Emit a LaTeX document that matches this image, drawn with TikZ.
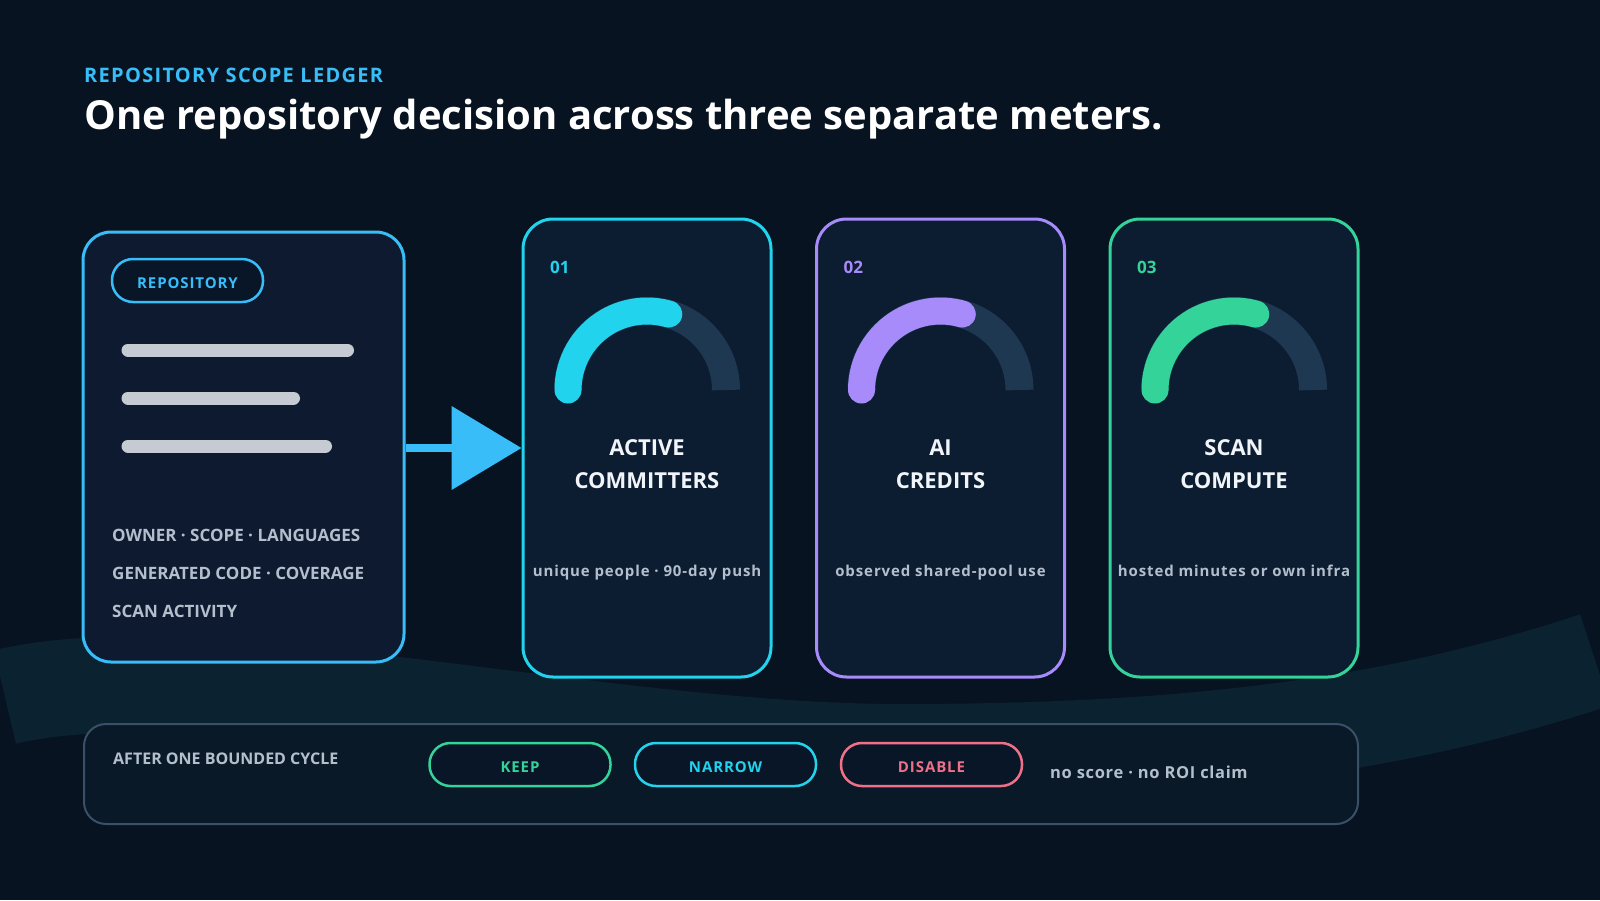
\documentclass[tikz,border=0pt]{standalone}
\usepackage{fontspec}
\setmainfont{Open Sans}
\newfontfamily\spacedfont[LetterSpace=6]{Open Sans}
\newfontfamily\widefont[LetterSpace=6.5]{Open Sans}
\newfontfamily\notefont[LetterSpace=4]{Open Sans}
\usetikzlibrary{arrows.meta}

\definecolor{bgnavy}{HTML}{071320}
\definecolor{bandblue}{HTML}{0B2231}
\definecolor{repofill}{HTML}{0D1A30}
\definecolor{cardfill}{HTML}{0C1D32}
\definecolor{pillfill}{HTML}{081627}
\definecolor{boxfill}{HTML}{0A1928}
\definecolor{boxline}{HTML}{3A5068}
\definecolor{skyblue}{HTML}{38BDF8}
\definecolor{cyanish}{HTML}{22D3EE}
\definecolor{violet}{HTML}{A78BFA}
\definecolor{mint}{HTML}{34D399}
\definecolor{rose}{HTML}{F07088}
\definecolor{trackgray}{HTML}{1D3850}
\definecolor{barlight}{HTML}{C5CAD3}
\definecolor{mutedtext}{HTML}{B4BFCD}
\definecolor{headwhite}{HTML}{F1F5F9}

\tikzset{
  card/.style={draw=#1, line width=3pt, rounded corners=30pt, fill=cardfill,
    minimum width=248pt, minimum height=458pt, inner sep=0pt},
  pill/.style={draw=#1, line width=2.5pt, rounded corners=21pt, fill=pillfill,
    minimum width=181pt, minimum height=43pt, inner sep=0pt, text=#1,
    text height=15pt, text depth=0pt,
    font=\spacedfont\bfseries\fontsize{15}{18}\selectfont},
  txt/.style={inner sep=0pt, anchor=base west},
  ctxt/.style={inner sep=0pt, anchor=base},
  metric/.style={ctxt, text=headwhite, font=\bfseries\fontsize{22}{26}\selectfont},
  caption/.style={ctxt, text=mutedtext, font=\spacedfont\bfseries\fontsize{15}{18}\selectfont},
  idx/.style={txt, text=#1, font=\bfseries\fontsize{17}{20}\selectfont},
  track/.style={draw=trackgray, line width=28pt},
  gauge/.style={draw=#1, line width=27pt, line cap=round},
  bar/.style={draw=barlight, line width=13pt, line cap=round},
  fact/.style={txt, text=mutedtext, font=\bfseries\fontsize{17}{20}\selectfont}
}

\begin{document}
\begin{tikzpicture}[x=1pt,y=1pt]
  \useasboundingbox (0,0) rectangle (1600,-900);
  \fill[bgnavy] (0,0) rectangle (1600,-900);

  % background band
  \draw[bandblue, line width=96pt] (5,-697) .. controls (200,-650) and (600,-752) .. (900,-752)
    .. controls (1200,-752) and (1400,-724) .. (1595,-660);

  % heading
  \node[txt, text=skyblue, font=\widefont\bfseries\fontsize{20}{24}\selectfont] (kicker) at (84,-82) {REPOSITORY SCOPE LEDGER};
  \node[txt, text=white, font=\bfseries\fontsize{40}{48}\selectfont] (title) at (84,-129) {One repository decision across three separate meters.};

  % repository card
  \node[card=skyblue, fill=repofill, minimum width=321pt, minimum height=430pt, rounded corners=28pt] (repo) at (243.5,-447) {};
  \node[pill=skyblue, minimum width=151pt] (repotag) at (187.5,-280.5) {REPOSITORY};
  \draw[bar] (128,-350) -- (347.5,-350);
  \draw[bar] (128,-398) -- (293.5,-398);
  \draw[bar] (128,-446) -- (325.5,-446);
  \node[fact] (f1) at (112,-541) {OWNER · SCOPE · LANGUAGES};
  \node[fact] (f2) at (112,-579) {GENERATED CODE · COVERAGE};
  \node[fact] (f3) at (112,-617) {SCAN ACTIVITY};

  % meter cards
  \node[card=cyanish] (m1) at (647,-448) {};
  \node[card=violet] (m2) at (940.5,-448) {};
  \node[card=mint] (m3) at (1234,-448) {};

  \draw[-{Triangle[length=70pt,width=82pt]}, skyblue, line width=8pt] (repo.east |- m1.west) -- (m1.west);

  % meter 01
  \node[idx=cyanish] (n1) at (550,-273) {01};
  \draw[track] (568,-390) arc[start angle=180, end angle=0, radius=79pt];
  \draw[gauge=cyanish] (568,-390) arc[start angle=180, end angle=74, radius=79pt];
  \node[metric] (t1a) at (647,-455) {ACTIVE};
  \node[metric] (t1b) at (647,-488) {COMMITTERS};
  \node[caption] (c1) at (647,-576) {unique people · 90-day push};

  % meter 02
  \node[idx=violet] (n2) at (843.5,-273) {02};
  \draw[track] (861.5,-390) arc[start angle=180, end angle=0, radius=79pt];
  \draw[gauge=violet] (861.5,-390) arc[start angle=180, end angle=74, radius=79pt];
  \node[metric] (t2a) at (940.5,-455) {AI};
  \node[metric] (t2b) at (940.5,-488) {CREDITS};
  \node[caption] (c2) at (940.5,-576) {observed shared-pool use};

  % meter 03
  \node[idx=mint] (n3) at (1137,-273) {03};
  \draw[track] (1155,-390) arc[start angle=180, end angle=0, radius=79pt];
  \draw[gauge=mint] (1155,-390) arc[start angle=180, end angle=74, radius=79pt];
  \node[metric] (t3a) at (1234,-455) {SCAN};
  \node[metric] (t3b) at (1234,-488) {COMPUTE};
  \node[caption] (c3) at (1234,-576) {hosted minutes or own infra};

  % decision strip
  \node[draw=boxline, line width=2pt, fill=boxfill, rounded corners=22pt,
    minimum width=1274pt, minimum height=100pt, inner sep=0pt] (strip) at (721,-774) {};
  \node[txt, text=mutedtext, font=\bfseries\fontsize{16}{19}\selectfont] (cycle) at (113,-764) {AFTER ONE BOUNDED CYCLE};
  \node[pill=mint] (keep) at (520,-764.5) {KEEP};
  \node[pill=cyanish] (narrow) at (725.5,-764.5) {NARROW};
  \node[pill=rose] (disable) at (931.5,-764.5) {DISABLE};
  \node[txt, text=mutedtext, font=\notefont\bfseries\fontsize{16.5}{20}\selectfont] (note) at (1050,-778) {no score · no ROI claim};
\end{tikzpicture}
\end{document}
